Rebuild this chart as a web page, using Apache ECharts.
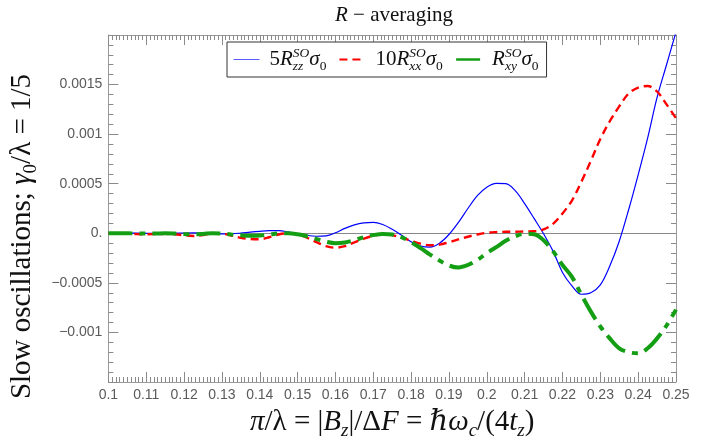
<!DOCTYPE html>
<html>
<head>
<meta charset="utf-8">
<script src="https://cdn.jsdelivr.net/npm/echarts@6/dist/echarts.min.js"></script>
<style>
html, body { margin: 0; padding: 0; background: #fff; }
#chart { width: 725px; height: 445px; }
</style>
</head>
<body>
<div id="chart"></div>
<script>
// pi/lambda sample positions
const xs = [
  0.1000, 0.1025, 0.1050, 0.1075, 0.1100, 0.1125, 0.1150, 0.1175, 0.1200, 0.1225,
  0.1250, 0.1275, 0.1300, 0.1325, 0.1350, 0.1375, 0.1400, 0.1425, 0.1450, 0.1475,
  0.1500, 0.1525, 0.1550, 0.1575, 0.1600, 0.1625, 0.1650, 0.1675, 0.1700, 0.1725,
  0.1750, 0.1775, 0.1800, 0.1825, 0.1850, 0.1875, 0.1900, 0.1925, 0.1950, 0.1975,
  0.2000, 0.2025, 0.2050, 0.2075, 0.2100, 0.2125, 0.2150, 0.2175, 0.2200, 0.2225,
  0.2250, 0.2275, 0.2300, 0.2325, 0.2350, 0.2375, 0.2400, 0.2425, 0.2450, 0.2475,
  0.2500
];

// 5 R_zz^SO sigma_0
const rzz5 = [
  0.000000, 0.000000, 0.000001, 0.000001, 0.000000, -0.000001, -0.000002, 0.000000, 0.000003, 0.000004,
  0.000002, -0.000003, -0.000006, -0.000005, 0.000002, 0.000012, 0.000020, 0.000026, 0.000027, 0.000014,
  -0.000006, -0.000022, -0.000030, -0.000026, 0.000005, 0.000050, 0.000085, 0.000105, 0.000110, 0.000088,
  0.000040, -0.000020, -0.000085, -0.000128, -0.000140, -0.000100, -0.000012, 0.000110, 0.000250, 0.000380,
  0.000465, 0.000503, 0.000500, 0.000430, 0.000300, 0.000150, -0.000005, -0.000180, -0.000395, -0.000530,
  -0.000615, -0.000600, -0.000520, -0.000330, -0.000080, 0.000240, 0.000590, 0.000960, 0.001370, 0.001700,
  0.002030
];

// 10 R_xx^SO sigma_0
const rxx10 = [
  0.000000, -0.000002, -0.000005, -0.000008, -0.000010, -0.000008, -0.000006, -0.000010, -0.000020, -0.000027,
  -0.000018, -0.000003, -0.000005, -0.000022, -0.000045, -0.000058, -0.000060, -0.000040, -0.000012, 0.000000,
  -0.000012, -0.000045, -0.000090, -0.000130, -0.000145, -0.000130, -0.000092, -0.000055, -0.000025, -0.000010,
  -0.000018, -0.000045, -0.000075, -0.000105, -0.000120, -0.000115, -0.000090, -0.000062, -0.000035, -0.000012,
  0.000005, 0.000012, 0.000015, 0.000016, 0.000018, 0.000020, 0.000040, 0.000095, 0.000200, 0.000330,
  0.000520, 0.000730, 0.000950, 0.001130, 0.001280, 0.001410, 0.001470, 0.001485, 0.001430, 0.001300,
  0.001160
];

// R_xy^SO sigma_0
const rxy = [
  0.000000, 0.000000, 0.000000, -0.000002, -0.000003, -0.000002, 0.000000, -0.000003, -0.000008, -0.000010,
  -0.000006, 0.000000, -0.000004, -0.000012, -0.000020, -0.000025, -0.000023, -0.000012, -0.000002, 0.000000,
  -0.000010, -0.000030, -0.000058, -0.000085, -0.000100, -0.000092, -0.000070, -0.000040, -0.000018, -0.000006,
  -0.000012, -0.000040, -0.000090, -0.000150, -0.000215, -0.000275, -0.000325, -0.000345, -0.000320, -0.000270,
  -0.000200, -0.000140, -0.000075, -0.000030, -0.000005, -0.000010, -0.000070, -0.000180, -0.000320, -0.000440,
  -0.000620, -0.000790, -0.000940, -0.001060, -0.001160, -0.001200, -0.001210, -0.001160, -0.001060, -0.000930,
  -0.000770
];

const seriesNames = ['5Rzz', '10Rxx', 'Rxy'];
const seriesColors = ['#0000ff', '#ff0000', '#149e14'];

// axis ranges and tick steps
const xRange = [0.1, 0.25];
const xStep = 0.01;
const yRange = [-0.0015, 0.002];
const yStep = 0.0005;

const serif = '"Liberation Serif", "DejaVu Serif", serif';
const sans = '"Liberation Sans", Arial, sans-serif';
const frameColor = '#9a9a9a';
const tickColor = '#8a8a8a';

const legendRich = {
  n:   { fontFamily: serif, fontSize: 21, lineHeight: 27, color: '#111' },
  it:  { fontFamily: serif, fontSize: 21, lineHeight: 27, color: '#111', fontStyle: 'italic' },
  sub: { fontFamily: serif, fontSize: 13.5, lineHeight: 13, color: '#111', fontStyle: 'italic', verticalAlign: 'bottom', width: 0 },
  sup: { fontFamily: serif, fontSize: 13.5, lineHeight: 15, color: '#111', fontStyle: 'italic', verticalAlign: 'top' },
  z:   { fontFamily: serif, fontSize: 13.5, lineHeight: 13, color: '#111', verticalAlign: 'bottom' },
  g:   { width: 5 }
};
const legendText = {
  '5Rzz':  '{g| }{n|5}{it|R}{sub|zz}{sup|SO}{it|σ}{z|0}',
  '10Rxx': '{g| }{n|10}{it|R}{sub|xx}{sup|SO}{it|σ}{z|0}',
  'Rxy':   '{g| }{it|R}{sub|xy}{sup|SO}{it|σ}{z|0}'
};

const nameSize = 29;
const nameRich = {
  n:  { fontFamily: serif, fontSize: nameSize, lineHeight: 36, color: '#111' },
  it: { fontFamily: serif, fontSize: nameSize, lineHeight: 36, color: '#111', fontStyle: 'italic' },
  sb: { fontFamily: serif, fontSize: 19, lineHeight: 17, color: '#111', fontStyle: 'italic', verticalAlign: 'bottom' },
  s0: { fontFamily: serif, fontSize: 19, lineHeight: 17, color: '#111', verticalAlign: 'bottom' }
};

function pairs(ys) { return xs.map((x, i) => [x, ys[i]]); }

function yLabel(v) {
  if (Math.abs(v) < 1e-12) return '0.';
  if (v <= yRange[0] + 1e-9 || v >= yRange[1] - 1e-9) return '';
  const s = String(+v.toPrecision(6));
  return s.charAt(0) === '-' ? '\u2212' + s.slice(1) : s;
}

function frameAxis(extra) {
  return Object.assign({
    type: 'value',
    axisLine: { show: true, onZero: false, lineStyle: { color: frameColor, width: 1 } },
    axisTick: { show: true, inside: true, length: 10, lineStyle: { color: tickColor, width: 1 } },
    minorTick: { show: true, length: 5, lineStyle: { color: tickColor, width: 1 } },
    splitLine: { show: false },
    minorSplitLine: { show: false }
  }, extra);
}

const labelStyle = { color: '#5a5a5a', fontFamily: sans, fontSize: 14 };

const chart = echarts.init(document.getElementById('chart'), null, { renderer: 'canvas' });

chart.setOption({
  animation: false,
  backgroundColor: '#fff',
  title: {
    text: '{it|R}{n| − averaging}',
    left: 330,
    top: 0,
    textStyle: { fontWeight: 'normal', rich: {
      n:  { fontFamily: serif, fontSize: 21, color: '#111', fontWeight: 'normal' },
      it: { fontFamily: serif, fontSize: 21, color: '#111', fontStyle: 'italic', fontWeight: 'normal' }
    } }
  },
  legend: {
    left: 227,
    top: 42,
    orient: 'horizontal',
    itemWidth: 26,
    itemHeight: 12,
    itemGap: 12,
    padding: [4, 8, 4, 6],
    backgroundColor: '#fff',
    borderColor: '#333',
    borderWidth: 1,
    borderRadius: 0,
    selectedMode: false,
    itemStyle: { opacity: 0 },
    data: [
      { name: seriesNames[0], lineStyle: { width: 1, color: '#5a5aff' } },
      { name: seriesNames[1], lineStyle: { width: 2, color: seriesColors[1] } },
      { name: seriesNames[2], lineStyle: { width: 2.5, color: seriesColors[2] } }
    ],
    formatter: name => legendText[name],
    textStyle: { rich: legendRich }
  },
  grid: { left: 106, right: 49, top: 35, bottom: 57, containLabel: false },
  xAxis: [
    frameAxis({
      position: 'bottom',
      min: xRange[0], max: xRange[1], interval: xStep,
      minorTick: { show: true, splitNumber: 10, length: 5, lineStyle: { color: tickColor, width: 1 } },
      axisLabel: Object.assign({ show: true, margin: 6, showMinLabel: true, showMaxLabel: true }, labelStyle),
      name: '{it|π}{n|/λ = |}{it|B}{sb|z}{n||/Δ}{it|F}{n| = }{it|ℏω}{sb|c}{n|/(4}{it|t}{sb|z}{n|)}',
      nameLocation: 'middle',
      nameGap: 22,
      nameTextStyle: { rich: nameRich }
    }),
    frameAxis({
      position: 'top',
      min: xRange[0], max: xRange[1], interval: xStep,
      minorTick: { show: true, splitNumber: 10, length: 5, lineStyle: { color: tickColor, width: 1 } },
      axisLabel: { show: false }
    })
  ],
  yAxis: [
    frameAxis({
      position: 'left',
      min: yRange[0], max: yRange[1], interval: yStep,
      minorTick: { show: true, splitNumber: 5, length: 5, lineStyle: { color: tickColor, width: 1 } },
      axisLabel: Object.assign({ show: true, margin: 6, formatter: yLabel }, labelStyle),
      name: '{n|Slow oscillations; }{it|γ}{s0|0}{n|/λ = 1/5}',
      nameLocation: 'middle',
      nameRotate: 90,
      nameGap: 66,
      nameTextStyle: { rich: nameRich, padding: [0, 56, 0, 0] }
    }),
    frameAxis({
      position: 'right',
      min: yRange[0], max: yRange[1], interval: yStep,
      minorTick: { show: true, splitNumber: 5, length: 5, lineStyle: { color: tickColor, width: 1 } },
      axisLabel: { show: false }
    })
  ],
  series: [
    {
      name: seriesNames[0], type: 'line', xAxisIndex: 0, yAxisIndex: 0,
      data: pairs(rzz5), symbol: 'none', smooth: 0.35, clip: true,
      lineStyle: { color: seriesColors[0], width: 1.2, type: 'solid' },
      itemStyle: { color: seriesColors[0] },
      z: 3,
      markLine: {
        silent: true, symbol: 'none', animation: false,
        label: { show: false },
        lineStyle: { color: '#888', width: 1, type: 'solid' },
        data: [{ yAxis: 0 }],
        z: 1
      }
    },
    {
      name: seriesNames[1], type: 'line', xAxisIndex: 0, yAxisIndex: 0,
      data: pairs(rxx10), symbol: 'none', smooth: 0.35, clip: true,
      lineStyle: { color: seriesColors[1], width: 2.4, type: [8, 5] },
      itemStyle: { color: seriesColors[1] },
      z: 4
    },
    {
      name: seriesNames[2], type: 'line', xAxisIndex: 0, yAxisIndex: 0,
      data: pairs(rxy), symbol: 'none', smooth: 0.35, clip: true,
      lineStyle: { color: seriesColors[2], width: 4, type: [24, 7, 6, 7] },
      itemStyle: { color: seriesColors[2] },
      z: 5
    }
  ]
});
</script>
</body>
</html>
